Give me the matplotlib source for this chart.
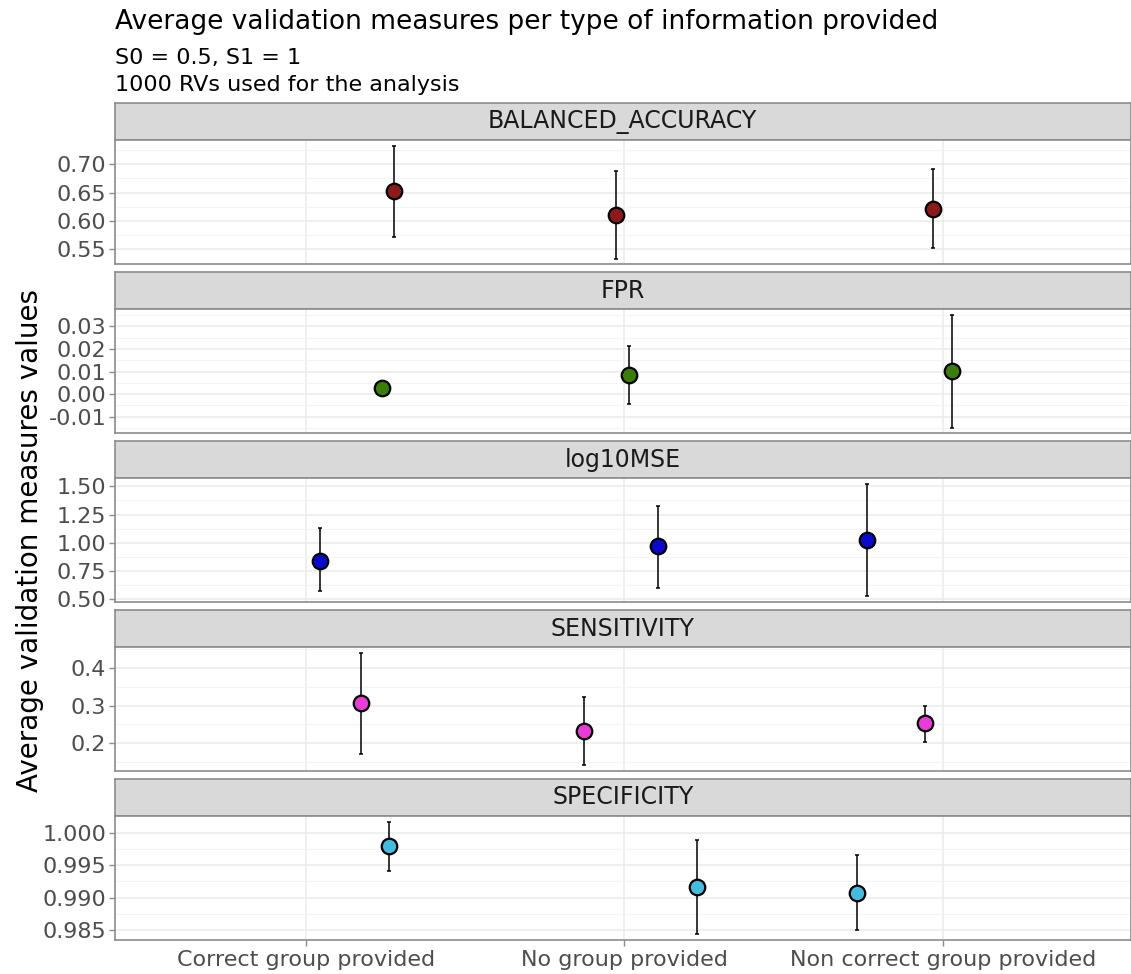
import matplotlib
matplotlib.use("Agg")
import matplotlib.pyplot as plt
from matplotlib.ticker import MultipleLocator, FormatStrFormatter
import numpy as np

plt.rcParams['font.family'] = ['DejaVu Sans']

# ---------------- data ----------------
categories = ["Correct group provided", "No group provided", "Non correct group provided"]
measures = ["BALANCED_ACCURACY", "FPR", "log10MSE", "SENSITIVITY", "SPECIFICITY"]

# horizontal jitter of each point (as drawn in the reference), per measure
jitter_ba = [0.277, -0.026, -0.030]
jitter_fpr = [0.238, 0.016, 0.029]
jitter_mse = [0.045, 0.106, -0.240]
jitter_sens = [0.175, -0.127, -0.056]
jitter_spec = [0.262, 0.228, -0.269]

mean_ba = [0.652, 0.6105, 0.621]
low_ba = [0.571, 0.533, 0.552]
high_ba = [0.7325, 0.689, 0.692]

mean_fpr = [0.0029, 0.0083, 0.0102]
low_fpr = [-0.0003, -0.0043, -0.0148]
high_fpr = [0.0058, 0.0211, 0.0351]

mean_mse = [0.838, 0.965, 1.020]
low_mse = [0.565, 0.597, 0.520]
high_mse = [1.126, 1.330, 1.524]

mean_sens = [0.306, 0.2307, 0.252]
low_sens = [0.171, 0.140, 0.2035]
high_sens = [0.4415, 0.323, 0.300]

mean_spec = [0.9979, 0.9916, 0.9908]
low_spec = [0.9941, 0.9844, 0.9851]
high_spec = [1.0017, 0.9989, 0.9966]

title = "Average validation measures per type of information provided"
subtitle1 = "S0 = 0.5, S1 = 1"
subtitle2 = "1000 RVs used for the analysis"
ylabel = "Average validation measures values"

# ---------------- styling ----------------
colors = ["#8B1A1A", "#3A7D0A", "#0A0ACD", "#E83BD8", "#45BCDD"]
major_steps = [0.05, 0.01, 0.25, 0.1, 0.005]
fmts = ["%.2f", "%.2f", "%.2f", "%.1f", "%.3f"]

panels = [
    (jitter_ba, mean_ba, low_ba, high_ba),
    (jitter_fpr, mean_fpr, low_fpr, high_fpr),
    (jitter_mse, mean_mse, low_mse, high_mse),
    (jitter_sens, mean_sens, low_sens, high_sens),
    (jitter_spec, mean_spec, low_spec, high_spec),
]

W, H = 1131, 974
fig = plt.figure(figsize=(W / 100, H / 100), dpi=100)

left_px, right_px = 114.5, 1131
strip_top0 = 103.3
step = 168.9
strip_h = 37
panel_h = 124

border_col = "#8C8C8C"
x_pos = np.arange(1, len(categories) + 1)

def fig_rect(x0, y_top, w, h):
    return [x0 / W, 1 - (y_top + h) / H, w / W, h / H]

for i, (name, (jit, mean, low, high)) in enumerate(zip(measures, panels)):
    st = strip_top0 + step * i
    # strip
    sax = fig.add_axes(fig_rect(left_px, st, right_px - left_px, strip_h))
    sax.set_facecolor("#D9D9D9")
    sax.set_xticks([]); sax.set_yticks([])
    for sp in sax.spines.values():
        sp.set_color(border_col); sp.set_linewidth(1.2)
    sax.text(0.5, 0.5, name, ha="center", va="center", fontsize=17,
             color="#1A1A1A", transform=sax.transAxes)

    ax = fig.add_axes(fig_rect(left_px, st + strip_h, right_px - left_px, panel_h))
    mean = np.array(mean); low = np.array(low); high = np.array(high)
    xs = x_pos + np.array(jit)
    ax.errorbar(xs, mean, yerr=[mean - low, high - mean], fmt="none",
                ecolor="black", elinewidth=1.1, capsize=1.2, capthick=1.1, zorder=3)
    ax.scatter(xs, mean, s=125, c=colors[i], edgecolors="black", linewidths=1.6, zorder=4)

    rng = high.max() - low.min()
    ax.set_ylim(low.min() - 0.05 * rng, high.max() + 0.05 * rng)
    ax.set_xlim(0.4, 3.59)
    ax.yaxis.set_major_locator(MultipleLocator(major_steps[i]))
    ax.yaxis.set_minor_locator(MultipleLocator(major_steps[i] / 2))
    ax.yaxis.set_major_formatter(FormatStrFormatter(fmts[i]))
    ax.set_xticks(x_pos)
    ax.grid(True, which="major", color="#EBEBEB", linewidth=1.1)
    ax.grid(True, which="minor", axis="y", color="#F4F4F4", linewidth=0.8)
    ax.set_axisbelow(True)
    ax.tick_params(axis="y", which="major", labelsize=16, labelcolor="#4D4D4D",
                   color="#8C8C8C", length=4, width=1, pad=2)
    ax.tick_params(axis="y", which="minor", length=0)
    for sp in ax.spines.values():
        sp.set_color(border_col); sp.set_linewidth(1.2)
    if i < len(measures) - 1:
        ax.tick_params(axis="x", length=0, labelbottom=False)
    else:
        ax.set_xticklabels(categories)
        ax.tick_params(axis="x", labelsize=16, labelcolor="#4D4D4D",
                       color="#8C8C8C", length=4, width=1, pad=3)

# titles
fig.text(115 / W, 1 - 22 / H, title, fontsize=19, ha="left", va="center", color="black")
fig.text(115 / W, 1 - 58 / H, subtitle1, fontsize=16, ha="left", va="center", color="black")
fig.text(115 / W, 1 - 85 / H, subtitle2, fontsize=16, ha="left", va="center", color="black")
fig.text(30 / W, 1 - 540 / H, ylabel, fontsize=20, rotation=90, ha="center", va="center",
         color="black")

fig.savefig("out.png", dpi=100, facecolor="white")
